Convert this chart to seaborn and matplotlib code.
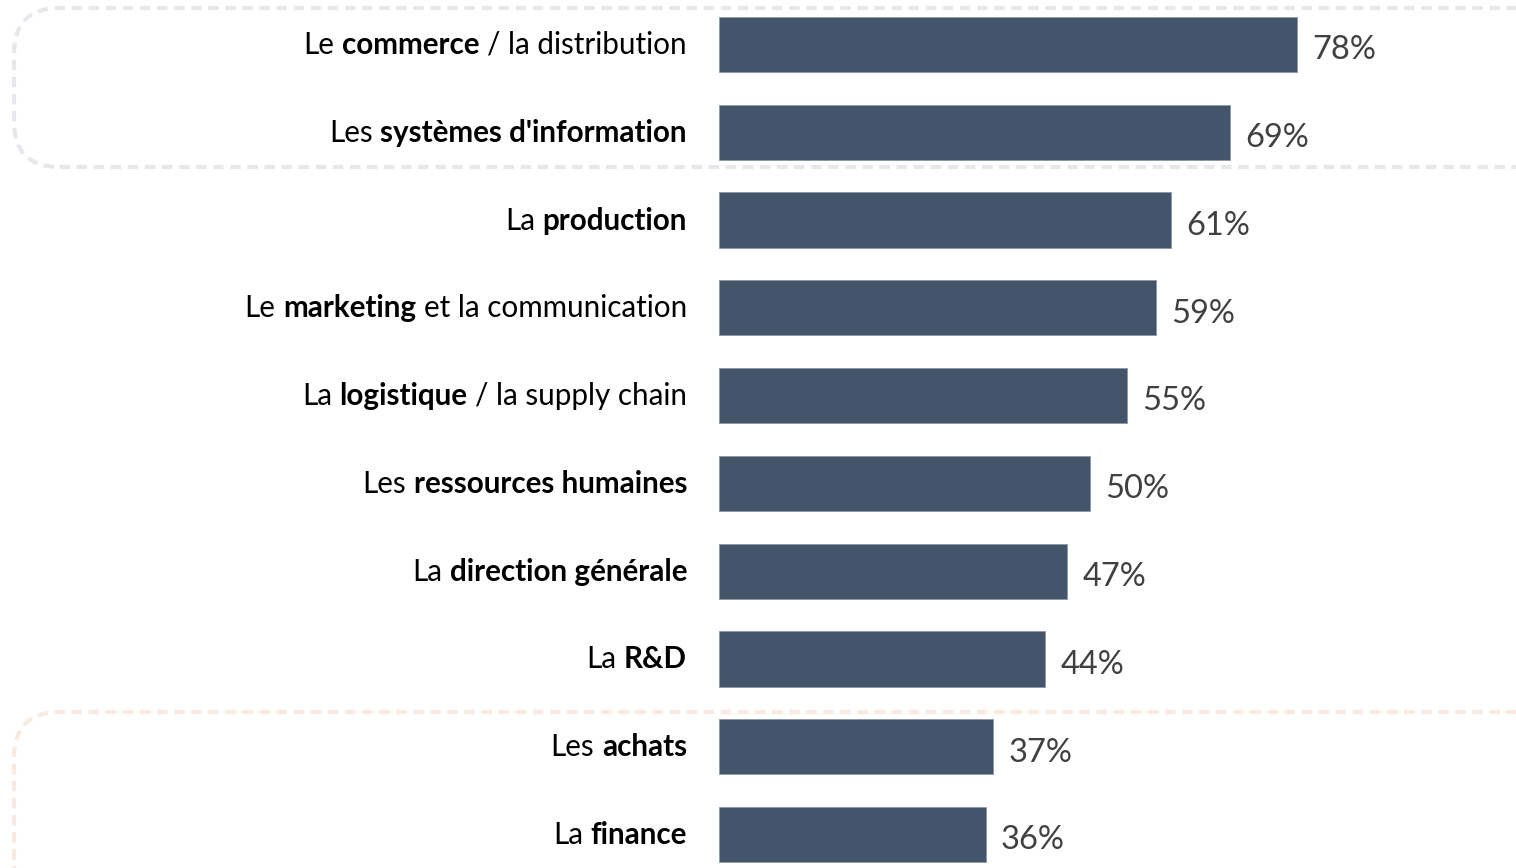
import matplotlib
matplotlib.use("Agg")
import matplotlib.pyplot as plt
import seaborn as sns
import pandas as pd
from matplotlib.patches import FancyBboxPatch

# ---- data ----
label_prefix = ["Le ", "Les ", "La ", "Le ", "La ", "Les ", "La ", "La ", "Les ", "La "]
label_bold = ["commerce", "systèmes d'information", "production", "marketing",
              "logistique", "ressources humaines", "direction générale", "R&D",
              "achats", "finance"]
label_suffix = [" / la distribution", "", "", " et la communication", " / la supply chain",
                "", "", "", "", ""]
values = [78, 69, 61, 59, 55, 50, 47, 44, 37, 36]

categories = [p + b + s for p, b, s in zip(label_prefix, label_bold, label_suffix)]
df = pd.DataFrame({"cat": categories, "val": values})

BAR = "#44546A"
W, H = 1516, 868

sns.set_theme(style="white")
plt.rcParams['font.family'] = ['Lato', 'DejaVu Sans']

fig = plt.figure(figsize=(W / 100, H / 100), dpi=100)
ax = fig.add_axes([719 / W, 0, 1 - 719 / W, 1])

sns.barplot(data=df, x="val", y="cat", orient="h", color=BAR, saturation=1,
            width=0.63, ax=ax, edgecolor="#8a98ad", linewidth=0.6)

px_per = 7.41
ax.set_xlim(0, (W - 719) / px_per)
step = 87.8
ax.set_ylim(9 + (H - 834.5) / step, -44.5 / step)
ax.set_axis_off()

# value labels
for i, v in enumerate(values):
    ax.annotate(f"{v}%", xy=(v, i), xytext=(11, -2), textcoords="offset points",
                ha="left", va="center_baseline", fontsize=23.5, color="#404040",
                fontweight="normal", family=["Lato", "DejaVu Sans"])

# category labels with mixed weight, right aligned at x=687 px
fig.canvas.draw()
renderer = fig.canvas.get_renderer()
FS = 21.3


def text_width(s, weight):
    t = fig.text(0, 0, s, fontsize=FS, fontweight=weight)
    w = t.get_window_extent(renderer).width
    t.remove()
    return w


space_w = text_width("a a", "normal") - text_width("aa", "normal")

for i in range(len(values)):
    ydisp = ax.transData.transform((0, i))[1]
    yfig = (ydisp + 2) / H
    pieces = []
    if label_prefix[i].strip():
        pieces.append((label_prefix[i].strip(), "normal", label_prefix[i].endswith(" ")))
    pieces.append((label_bold[i], "bold", label_suffix[i].startswith(" ")))
    if label_suffix[i].strip():
        pieces.append((label_suffix[i].strip(), "normal", False))
    cur = 687.0
    # draw right to left
    for idx in range(len(pieces) - 1, -1, -1):
        s, wgt, space_after = pieces[idx]
        if space_after:
            cur -= space_w
        t = fig.text(cur / W, yfig, s, fontsize=FS, fontweight=wgt, ha="right",
                     va="center_baseline", color="black")
        bb = t.get_window_extent(renderer)
        cur = bb.x0

# dashed rounded boxes
top = FancyBboxPatch((14 / W, 1 - 167 / H), (W + 60 - 14) / W, (167 - 8) / H,
                     boxstyle="round,pad=0,rounding_size=0.03", transform=fig.transFigure,
                     fill=False, edgecolor="#E6E8EB", linewidth=3,
                     linestyle=(0, (2.5, 1.6)), mutation_aspect=W / H, zorder=0)
fig.patches.append(top)
bot = FancyBboxPatch((14 / W, -60 / H), (W + 60 - 14) / W, (60 + 868 - 712) / H,
                     boxstyle="round,pad=0,rounding_size=0.03", transform=fig.transFigure,
                     fill=False, edgecolor="#F8E9E1", linewidth=3,
                     linestyle=(0, (2.5, 1.6)), mutation_aspect=W / H, zorder=0)
fig.patches.append(bot)

fig.savefig("out.png", dpi=100, facecolor="white")
